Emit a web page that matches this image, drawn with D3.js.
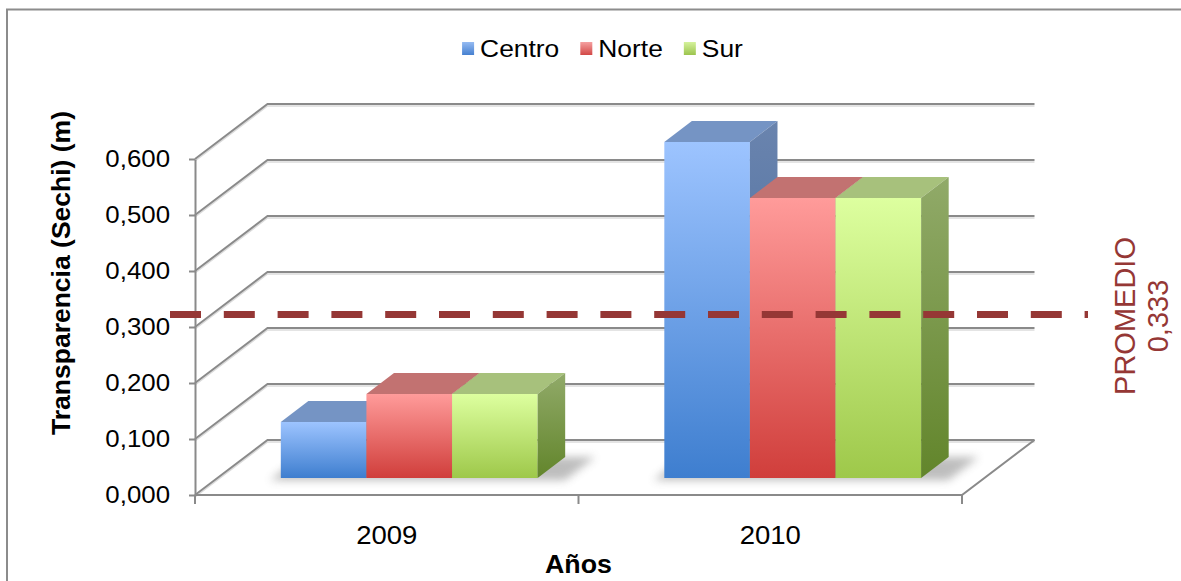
<!DOCTYPE html>
<html>
<head>
<meta charset="utf-8">
<script src="https://cdn.jsdelivr.net/npm/d3@7"></script>
<style>
  body { margin: 0; background: #ffffff; }
  svg { display: block; }
  text { font-family: "Liberation Sans", Arial, sans-serif; }
</style>
</head>
<body>
<svg id="chart" width="1181" height="581"></svg>
<script>
// Water transparency (Secchi disk depth, metres) per zone and year
const years = ["2009", "2010"];
const seriesNames = ["Centro", "Norte", "Sur"];
const centro = [0.10, 0.60];
const norte  = [0.15, 0.50];
const sur    = [0.15, 0.50];
const yTicks = [0, 0.1, 0.2, 0.3, 0.4, 0.5, 0.6];
const yTitle = "Transparencia (Sechi) (m)";
const xTitle = "Años";
const avgTitle = "PROMEDIO";

const series = [centro, norte, sur];
const allValues = series.flat();
const promedio = d3.mean(allValues);

const locale = d3.formatLocale({ decimal: ",", thousands: ".", grouping: [3], currency: ["", ""] });
const fmt = locale.format(".3f");

// Colour schemes: front gradient (top, bottom), top face, side gradient (top, bottom)
const palette = {
  Centro: { front: ["#9dc4ff", "#3e7ecf"], top: "#7594c4", side: ["#6a84ae", "#3f6499"], key: ["#95bbf2", "#4680d0"] },
  Norte:  { front: ["#ff9b9a", "#d03e3b"], top: "#c27271", side: ["#b46766", "#8e3230"], key: ["#f5a0a0", "#d24846"] },
  Sur:    { front: ["#ddff9f", "#9ec84a"], top: "#a7c17c", side: ["#91aa69", "#62852b"], key: ["#d5f29c", "#9cc44e"] }
};

const svg = d3.select("#chart");
const W = 1181, H = 581;
const textStretch = 1.1;

// Oblique 3-D projection: front plane at depth 0, back wall at depth 1
const xFront0 = 195, xFront1 = 962, yFloor = 495;
const depthDX = 72.5, depthDY = -55;
const barDepth0 = 0.31, barDepth1 = 0.69;
const avgDepth = -0.11;

const x = d3.scaleBand().domain(years).range([xFront0, xFront1]);
const xs = d3.scaleBand().domain(seriesNames).range([0, x.bandwidth()]).paddingOuter(0.74);
const y = d3.scaleLinear().domain([0, 0.6]).range([yFloor, yFloor - 336]);

function P(px, val, d) { return [px + depthDX * d, y(val) + depthDY * d]; }
const poly = pts => "M" + pts.map(p => p[0].toFixed(2) + "," + p[1].toFixed(2)).join("L") + "Z";

const defs = svg.append("defs");
function vGrad(id, c0, c1) {
  const g = defs.append("linearGradient").attr("id", id)
    .attr("x1", 0).attr("y1", 0).attr("x2", 0).attr("y2", 1);
  g.append("stop").attr("offset", 0).attr("stop-color", c0);
  g.append("stop").attr("offset", 1).attr("stop-color", c1);
}
seriesNames.forEach(s => {
  vGrad("front-" + s, palette[s].front[0], palette[s].front[1]);
  vGrad("side-" + s, palette[s].side[0], palette[s].side[1]);
  vGrad("key-" + s, palette[s].key[0], palette[s].key[1]);
});
defs.append("filter").attr("id", "soft").attr("x", "-20%").attr("y", "-50%").attr("width", "140%").attr("height", "200%")
  .append("feGaussianBlur").attr("stdDeviation", 4);

// Outer frame
svg.append("path").attr("d", `M7,${H}V9.5H${W}`)
  .attr("fill", "none").attr("stroke", "#8c8c8c").attr("stroke-width", 2);

// Walls and floor
const grid = svg.append("g").attr("fill", "none");
const gridColor = "#8a8a8a";
yTicks.forEach(t => {
  const a = P(xFront0, t, 0), b = P(xFront0, t, 1), c = P(xFront1, t, 1);
  grid.append("path").attr("d", `M${a}L${b}L${c}`)
    .attr("stroke", "#dcdcdc").attr("stroke-width", 1.5).attr("transform", "translate(0,2)");
  grid.append("path").attr("d", `M${a}L${b}L${c}`)
    .attr("stroke", gridColor).attr("stroke-width", 2);
});
{
  const a = P(xFront0, 0, 0), b = P(xFront1, 0, 0), c = P(xFront1, 0, 1);
  grid.append("path").attr("d", `M${a}L${b}L${c}`).attr("stroke", gridColor).attr("stroke-width", 2);
}

// Category ticks along the front floor edge
const xTickPos = years.map(yr => x(yr)).concat([x(years[years.length - 1]) + x.bandwidth()]);
svg.append("g").selectAll("line").data(xTickPos).join("line")
  .attr("x1", d => d).attr("x2", d => d)
  .attr("y1", yFloor).attr("y2", yFloor + 9)
  .attr("stroke", gridColor).attr("stroke-width", 2);

// Value axis on the front-left edge
const yAxis = svg.append("g")
  .attr("transform", `translate(${xFront0},0)`)
  .call(d3.axisLeft(y).tickValues(yTicks).tickFormat(fmt).tickSize(6).tickSizeOuter(0).tickPadding(19));
yAxis.select(".domain").attr("stroke", gridColor).attr("stroke-width", 2);
yAxis.selectAll(".tick line").attr("stroke", gridColor).attr("stroke-width", 2);
yAxis.selectAll(".tick text")
  .attr("font-family", "'Liberation Sans', Arial, sans-serif")
  .attr("font-size", 23.5).attr("fill", "#000")
  .attr("x", 0)
  .attr("transform", `translate(-25,0) scale(${textStretch},1)`);
yAxis.append("line").attr("x1", 0).attr("x2", 0).attr("y1", yFloor).attr("y2", yFloor + 9)
  .attr("stroke", gridColor).attr("stroke-width", 2);

// Bars
const bars = svg.append("g");
years.forEach((yr, i) => {
  const left = x(yr) + xs(seriesNames[0]);
  const right = x(yr) + xs(seriesNames[seriesNames.length - 1]) + xs.bandwidth();
  // soft floor shadow under the cluster
  bars.append("path")
    .attr("d", poly([P(left - 8, 0, barDepth0 - 0.04), P(right + 30, 0, barDepth0 - 0.04),
                     P(right + 30, 0, barDepth1), P(left - 8, 0, barDepth1)]))
    .attr("fill", "#6e6e6e").attr("opacity", 0.45).attr("filter", "url(#soft)");

  seriesNames.forEach((s, k) => {
    const val = series[k][i];
    const xl = x(yr) + xs(s), xr = xl + xs.bandwidth();
    const g = bars.append("g");
    g.append("path").attr("d", poly([P(xl, 0, barDepth0), P(xl, val, barDepth0), P(xr, val, barDepth0), P(xr, 0, barDepth0)]))
      .attr("fill", `url(#front-${s})`);
    g.append("path").attr("d", poly([P(xl, val, barDepth0), P(xr, val, barDepth0), P(xr, val, barDepth1), P(xl, val, barDepth1)]))
      .attr("fill", palette[s].top);
    g.append("path").attr("d", poly([P(xr, 0, barDepth0), P(xr, val, barDepth0), P(xr, val, barDepth1), P(xr, 0, barDepth1)]))
      .attr("fill", `url(#side-${s})`);
  });
});

// Category labels
const xAxis = svg.append("g")
  .attr("transform", `translate(0,${yFloor})`)
  .call(d3.axisBottom(x).tickSize(0).tickPadding(31));
xAxis.select(".domain").remove();
xAxis.selectAll(".tick text")
  .attr("font-family", "'Liberation Sans', Arial, sans-serif")
  .attr("font-size", 25).attr("fill", "#000")
  .attr("transform", `scale(${textStretch},1)`);

// Axis titles
svg.append("text")
  .attr("transform", `translate(${(xFront0 + xFront1) / 2},573) scale(1.03,1)`)
  .attr("text-anchor", "middle").attr("font-size", 26).attr("font-weight", "bold")
  .text(xTitle);
svg.append("text")
  .attr("transform", "translate(70,273) rotate(-90)")
  .attr("text-anchor", "middle").attr("font-size", 26.5).attr("font-weight", "bold")
  .text(yTitle);

// Average line
const avgY = P(0, promedio, avgDepth)[1];
svg.append("line")
  .attr("x1", 170).attr("x2", 1088).attr("y1", avgY).attr("y2", avgY)
  .attr("stroke", "#953735").attr("stroke-width", 7).attr("stroke-dasharray", "31 22.8");

const avgText = svg.append("text")
  .attr("transform", "translate(1135,316) rotate(-90)")
  .attr("text-anchor", "middle").attr("font-size", 29).attr("fill", "#953735");
avgText.append("tspan").attr("x", 0).attr("y", 0).text(avgTitle);
avgText.append("tspan").attr("x", 0).attr("y", 33).text(fmt(promedio));

// Legend
const legend = svg.append("g");
const items = legend.selectAll("g").data(seriesNames).join("g");
items.append("rect").attr("width", 12).attr("height", 13).attr("y", 42)
  .attr("fill", d => `url(#key-${d})`);
items.append("text")
  .attr("transform", `translate(18,56.5) scale(${textStretch},1)`)
  .attr("font-size", 24).attr("fill", "#000").text(d => d);
let cursor = 0;
const offsets = [];
items.each(function () {
  offsets.push(cursor);
  const w = d3.select(this).select("text").node().getComputedTextLength() * textStretch;
  cursor += 18 + w + 21;
});
const totalW = cursor - 21;
const startX = 602.5 - totalW / 2;
items.attr("transform", (d, i) => `translate(${startX + offsets[i]},0)`);
</script>
</body>
</html>
